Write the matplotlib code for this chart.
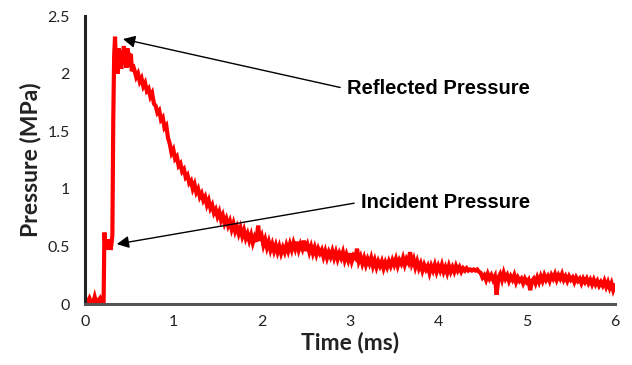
import numpy as np
import matplotlib
matplotlib.use("Agg")
import matplotlib.pyplot as plt

# ---- data ----
rise_t = [0.00, 0.03, 0.05, 0.07, 0.09, 0.11, 0.13, 0.15, 0.17, 0.19, 0.21,
          0.215, 0.22, 0.23, 0.24, 0.25, 0.26, 0.27, 0.28, 0.29, 0.30, 0.31,
          0.32, 0.33, 0.34, 0.35, 0.36, 0.37, 0.38, 0.39, 0.40, 0.41, 0.42,
          0.43, 0.44, 0.45, 0.46, 0.47, 0.48, 0.49, 0.50, 0.51, 0.52, 0.53,
          0.54]
rise_p = [0.00, 0.02, 0.05, 0.01, 0.00, 0.06, 0.00, 0.03, 0.05, 0.01, 0.00,
          0.35, 0.62, 0.50, 0.55, 0.47, 0.56, 0.50, 0.54, 0.47, 0.52, 0.60,
          1.60, 2.15, 2.32, 2.05, 2.15, 2.00, 2.22, 2.08, 2.18, 2.04, 2.20,
          2.10, 2.24, 2.08, 2.16, 2.05, 2.22, 2.12, 2.18, 2.06, 2.17, 2.02,
          2.08]

decay_p = [
    2.03, 1.97, 2.00, 1.93, 1.96, 1.89, 1.92, 1.85, 1.87, 1.80,   # 0.56-0.74
    1.83, 1.74, 1.72, 1.66, 1.68, 1.60, 1.62, 1.53, 1.55, 1.44,   # 0.76-0.94
    1.39, 1.31, 1.34, 1.26, 1.28, 1.20, 1.22, 1.15, 1.17, 1.10,   # 0.96-1.14
    1.12, 1.05, 1.07, 1.00, 1.04, 0.97, 1.00, 0.93, 0.96, 0.90,   # 1.16-1.34
    0.93, 0.86, 0.90, 0.83, 0.86, 0.79, 0.82, 0.76, 0.80, 0.73,   # 1.36-1.54
    0.77, 0.70, 0.74, 0.68, 0.72, 0.65, 0.70, 0.63, 0.67, 0.61,   # 1.56-1.74
    0.66, 0.59, 0.64, 0.57, 0.61, 0.55, 0.60, 0.53, 0.58, 0.54,   # 1.76-1.94
    0.68, 0.55, 0.59, 0.51, 0.56, 0.49, 0.54, 0.47, 0.52, 0.46,   # 1.96-2.14
    0.51, 0.45, 0.50, 0.44, 0.49, 0.45, 0.51, 0.46, 0.52, 0.47,   # 2.16-2.34
    0.53, 0.48, 0.54, 0.47, 0.52, 0.48, 0.55, 0.46, 0.51, 0.45,   # 2.36-2.54
    0.50, 0.44, 0.49, 0.43, 0.48, 0.44, 0.47, 0.41, 0.46, 0.40,   # 2.56-2.74
    0.45, 0.41, 0.46, 0.40, 0.45, 0.39, 0.44, 0.40, 0.45, 0.38,   # 2.76-2.94
    0.43, 0.38, 0.44, 0.37, 0.42, 0.40, 0.48, 0.37, 0.41, 0.35,   # 2.96-3.14
    0.40, 0.34, 0.39, 0.35, 0.40, 0.33, 0.38, 0.32, 0.37, 0.33,   # 3.16-3.34
    0.37, 0.31, 0.36, 0.32, 0.37, 0.33, 0.38, 0.34, 0.39, 0.33,   # 3.36-3.54
    0.38, 0.35, 0.40, 0.34, 0.39, 0.36, 0.45, 0.35, 0.39, 0.32,   # 3.56-3.74
    0.37, 0.31, 0.35, 0.29, 0.34, 0.30, 0.33, 0.27, 0.33, 0.29,   # 3.76-3.94
    0.34, 0.28, 0.33, 0.29, 0.34, 0.28, 0.32, 0.27, 0.33, 0.28,   # 3.96-4.14
    0.32, 0.28, 0.33, 0.29, 0.32, 0.28, 0.31, 0.29, 0.31, 0.29,   # 4.16-4.34
    0.30, 0.29, 0.30, 0.29, 0.30, 0.28, 0.27, 0.23, 0.25, 0.21,   # 4.36-4.54
    0.26, 0.22, 0.25, 0.21, 0.24, 0.08, 0.23, 0.26, 0.21, 0.27,   # 4.56-4.74
    0.22, 0.25, 0.20, 0.24, 0.21, 0.25, 0.19, 0.23, 0.20, 0.22,   # 4.76-4.94
    0.18, 0.22, 0.19, 0.21, 0.12, 0.20, 0.22, 0.18, 0.23, 0.19,   # 4.96-5.14
    0.24, 0.20, 0.25, 0.21, 0.24, 0.20, 0.25, 0.22, 0.26, 0.21,   # 5.16-5.34
    0.25, 0.22, 0.26, 0.21, 0.24, 0.20, 0.24, 0.21, 0.23, 0.19,   # 5.36-5.54
    0.23, 0.20, 0.22, 0.18, 0.22, 0.19, 0.22, 0.18, 0.21, 0.17,   # 5.56-5.74
    0.21, 0.17, 0.20, 0.16, 0.19, 0.16, 0.20, 0.15, 0.19, 0.14,   # 5.76-5.94
    0.18, 0.12, 0.16,                                             # 5.96-6.00
]
decay_t = list(np.linspace(0.56, 6.00, len(decay_p)))

time_ms = rise_t + decay_t
pressure = rise_p + decay_p

x_ticks = [0, 1, 2, 3, 4, 5, 6]
y_ticks = [0, 0.5, 1, 1.5, 2, 2.5]
y_tick_labels = ["0", "0.5", "1", "1.5", "2", "2.5"]

# ---- figure ----
fig = plt.figure(figsize=(6.32, 3.65), dpi=100)
ax = fig.add_axes([85/632, 1-304/365, (615-85)/632, (304-16)/365])

ax.plot(time_ms, pressure, color="#ff0000", lw=3.0, solid_joinstyle="miter")

ax.set_xlim(0, 6)
ax.set_ylim(0, 2.5)
ax.set_xticks(x_ticks)
ax.set_yticks(y_ticks)
ax.set_yticklabels(y_tick_labels)
for lab in ax.get_xticklabels() + ax.get_yticklabels():
    lab.set_fontfamily(["Lato", "DejaVu Sans"])
    lab.set_fontsize(11.5)
    lab.set_color("#222222")
ax.tick_params(axis="x", length=0, pad=8)
ax.tick_params(axis="y", length=0, pad=11)

for s in ["top", "right"]:
    ax.spines[s].set_visible(False)
ax.spines["left"].set_color("#222222")
ax.spines["left"].set_linewidth(2.2)
ax.spines["bottom"].set_color("#555555")
ax.spines["bottom"].set_linewidth(2.2)

ax.set_xlabel("Time (ms)", family=["Lato", "DejaVu Sans"], fontsize=16.5,
              fontweight="bold", color="#222222", labelpad=2)
ax.set_ylabel("Pressure (MPa)", family=["Lato", "DejaVu Sans"], fontsize=16.5,
              fontweight="bold", color="#222222", labelpad=4)

arrow = dict(arrowstyle="-|>", color="black", lw=1.0, mutation_scale=18,
             shrinkA=3, shrinkB=0, relpos=(0, 0.5))
ax.annotate("Reflected Pressure", xy=(0.43, 2.30), xycoords="data",
            xytext=(347, 365-89), textcoords="figure pixels",
            ha="left", va="center", fontsize=14.5, fontweight="bold",
            family=["Liberation Sans", "DejaVu Sans"], arrowprops=arrow)
ax.annotate("Incident Pressure", xy=(0.36, 0.52), xycoords="data",
            xytext=(361, 365-202), textcoords="figure pixels",
            ha="left", va="center", fontsize=14.5, fontweight="bold",
            family=["Liberation Sans", "DejaVu Sans"], arrowprops=arrow)

fig.savefig("out.png", dpi=100)
